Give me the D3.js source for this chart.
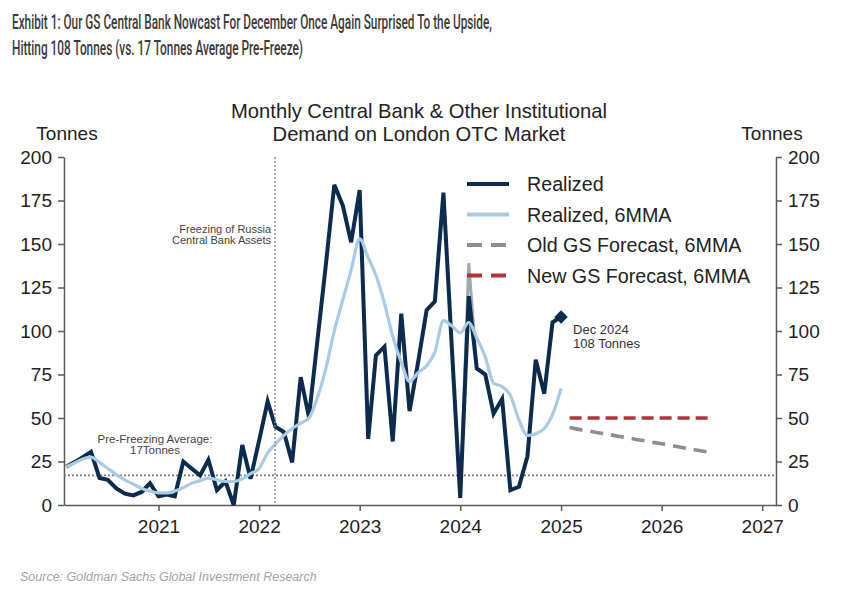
<!DOCTYPE html>
<html><head><meta charset="utf-8">
<script src="https://cdn.jsdelivr.net/npm/d3@7"></script>
<style>
body{margin:0;background:#fff;}
svg{display:block;}
</style></head>
<body><svg id="c" width="848" height="603"></svg>
<script>
// ---------------- DATA ----------------
const titleLines = [
  "Exhibit 1: Our GS Central Bank Nowcast For December Once Again Surprised To the Upside,",
  "Hitting 108 Tonnes (vs. 17 Tonnes Average Pre-Freeze)"
];
const subtitleLines = ["Monthly Central Bank & Other Institutional", "Demand on London OTC Market"];
const yAxisLabel = "Tonnes";
const sourceText = "Source: Goldman Sachs Global Investment Research";

// Monthly values Jan 2020 .. Dec 2024 (tonnes)
const realized = [
  22, 24.5, 27.5, 30.5, 15.5, 14.5, 9.5, 6.5, 5.5, 7.5, 12.5, 5,
  6, 5, 25, 21, 17, 26, 8.5, 13.5, 0, 34.5, 15, 37,
  59.5, 45, 42, 24.5, 73.5, 50.5, 95, 139, 184, 172, 151, 181,
  38, 86, 91, 36.5, 110, 54, 82, 112, 117, 179.5, 92, 4,
  120, 78.5, 75, 52.5, 61, 8.5, 10.5, 28, 83.5, 64, 105, 108
];
const realized6mma = [
  22, 24, 26.5, 27.5, 24.5, 21, 17.5, 14.5, 12, 9.5, 8, 7,
  7, 8, 10, 12.5, 14, 15.5, 14.5, 13.5, 13.5, 15, 18, 21,
  30, 35, 40, 44, 47, 50, 62, 79, 100, 118, 135, 153,
  142, 132, 116, 97, 82, 71, 76, 80, 88, 106, 103, 99,
  105, 96, 85, 70, 68, 63, 49, 40, 41, 44, 52, 67
];
// earlier print of Jan 2024 (grey tip above the realized spike)
const jan2024Revision = [4, 139, 78.5];
// Forecasts Jan 2025 .. Jun 2026
const oldForecast6mma = [44.5, 43.6, 42.8, 42.0, 41.1, 40.3, 39.4, 38.6, 37.7, 36.9, 36.0, 35.2, 34.3, 33.5, 32.6, 31.8, 30.9, 30.0];
const newForecast6mma = [50, 50, 50, 50, 50, 50, 50, 50, 50, 50, 50, 50, 50, 50, 50, 50, 50, 50];

const yTicks = [0, 25, 50, 75, 100, 125, 150, 175, 200];
const xTickYears = [2021, 2022, 2023, 2024, 2025, 2026, 2027];
const preFreezeAverage = 17;
const freezeDate = new Date(2022, 1, 28);
const legendLabels = ["Realized", "Realized, 6MMA", "Old GS Forecast, 6MMA", "New GS Forecast, 6MMA"];
const freezeNote = ["Freezing of Russia", "Central Bank Assets"];
const avgNote = ["Pre-Freezing Average:", "17Tonnes"];
const lastNote = ["Dec 2024", "108 Tonnes"];

// month-end stamps (plotted at start of following month)
const realizedDates = d3.timeMonth.range(new Date(2020, 1, 1), new Date(2025, 1, 1));
const forecastDates = d3.timeMonth.range(new Date(2025, 1, 1), new Date(2026, 6, 2));
const revisionDates = [new Date(2024, 0, 1), new Date(2024, 1, 1), new Date(2024, 2, 1)];

// ---------------- CHART ----------------
const FONT = "'Liberation Sans', Arial, Helvetica, sans-serif";
const C = { navy: "#0c2b4f", light: "#aacbe6", grey: "#8e8e8e", red: "#b5323b", axis: "#5a5a5a", text: "#222" };
const L = 64, R = 776, T = 157, B = 505;

const svg = d3.select("#c");
const x = d3.scaleTime().domain([new Date(2020, 0, 24), new Date(2027, 1, 20)]).range([L, R]);
const y = d3.scaleLinear().domain([0, 200]).range([B, T]);

// Title
svg.selectAll("text.title").data(titleLines).join("text")
  .attr("class", "title")
  .attr("x", 12).attr("y", (d, i) => 29 + i * 26)
  .attr("textLength", (d, i) => i === 0 ? 480 : 291)
  .attr("lengthAdjust", "spacingAndGlyphs")
  .attr("font-family", "Roboto, 'Noto Sans', sans-serif")
  .attr("font-weight", 500).attr("font-size", 19.5).attr("fill", "#3a3a3a")
  .text(d => d);

// Subtitle
svg.selectAll("text.sub").data(subtitleLines).join("text")
  .attr("class", "sub")
  .attr("x", 419).attr("y", (d, i) => 118 + i * 23)
  .attr("text-anchor", "middle")
  .attr("font-family", FONT).attr("font-size", 20.2).attr("fill", C.text)
  .text(d => d);

// Axis unit labels
svg.append("text").attr("x", 67).attr("y", 140).attr("text-anchor", "middle")
  .attr("font-family", FONT).attr("font-size", 19).attr("fill", C.text).text(yAxisLabel);
svg.append("text").attr("x", 772).attr("y", 140).attr("text-anchor", "middle")
  .attr("font-family", FONT).attr("font-size", 19).attr("fill", C.text).text(yAxisLabel);

// Axes
function styleAxis(g) {
  g.select(".domain").attr("stroke", C.axis).attr("stroke-width", 1.5);
  g.selectAll(".tick line").attr("stroke", C.axis).attr("stroke-width", 1.5);
  g.selectAll(".tick text").attr("font-family", FONT).attr("font-size", 19).attr("fill", C.text);
}
svg.append("g").attr("transform", `translate(${L},0)`)
  .call(d3.axisLeft(y).tickValues(yTicks).tickSize(6).tickPadding(6).tickSizeOuter(0))
  .call(styleAxis);
svg.append("g").attr("transform", `translate(${R},0)`)
  .call(d3.axisRight(y).tickValues(yTicks).tickSize(6).tickPadding(6).tickSizeOuter(0))
  .call(styleAxis);
svg.append("g").attr("transform", `translate(0,${B})`)
  .call(d3.axisBottom(x).tickValues(xTickYears.map(v => new Date(v, 0, 1)))
    .tickFormat(d3.timeFormat("%Y")).tickSize(6).tickPadding(9).tickSizeOuter(0))
  .call(styleAxis);

// Clip
svg.append("clipPath").attr("id", "plot").append("rect")
  .attr("x", L).attr("y", T - 10).attr("width", R - L).attr("height", B - T + 11);
const plot = svg.append("g").attr("clip-path", "url(#plot)");

// Reference lines
plot.append("line")
  .attr("x1", L).attr("x2", R).attr("y1", y(preFreezeAverage)).attr("y2", y(preFreezeAverage))
  .attr("stroke", "#7a7a7a").attr("stroke-width", 1.6).attr("stroke-dasharray", "2,2");
svg.append("line")
  .attr("x1", x(freezeDate)).attr("x2", x(freezeDate)).attr("y1", y(200)).attr("y2", y(0))
  .attr("stroke", "#8a8a8a").attr("stroke-width", 1.4).attr("stroke-dasharray", "2,2");

const line = d3.line().x(d => x(d[0])).y(d => y(d[1]));

plot.append("path").datum(d3.zip(revisionDates, jan2024Revision))
  .attr("d", line).attr("fill", "none").attr("stroke", "#9ea9b2").attr("stroke-width", 3)
  .attr("stroke-linejoin", "miter");
plot.append("path").datum(d3.zip(realizedDates, realized))
  .attr("d", line).attr("fill", "none").attr("stroke", C.navy).attr("stroke-width", 4)
  .attr("stroke-linejoin", "miter");
plot.append("path").datum(d3.zip(realizedDates, realized6mma))
  .attr("d", d3.line().x(d => x(d[0])).y(d => y(d[1])).curve(d3.curveMonotoneX))
  .attr("fill", "none").attr("stroke", C.light).attr("stroke-width", 3.2);
plot.append("path").datum(d3.zip(forecastDates, oldForecast6mma))
  .attr("d", line).attr("fill", "none").attr("stroke", C.grey).attr("stroke-width", 3.6)
  .attr("stroke-dasharray", "13,8");
plot.append("path").datum(d3.zip(forecastDates, newForecast6mma))
  .attr("d", line).attr("fill", "none").attr("stroke", C.red).attr("stroke-width", 3.6)
  .attr("stroke-dasharray", "12,6");

// Last point marker
const lastIdx = realized.length - 1;
svg.append("path")
  .attr("d", d3.symbol().type(d3.symbolSquare).size(90)())
  .attr("transform", `translate(${x(realizedDates[lastIdx])},${y(realized[lastIdx])}) rotate(45)`)
  .attr("fill", C.navy);

// Annotations
svg.selectAll("text.last").data(lastNote).join("text").attr("class", "last")
  .attr("x", x(realizedDates[lastIdx]) + 12).attr("y", (d, i) => 334 + i * 14)
  .attr("font-family", FONT).attr("font-size", 13).attr("fill", "#333").text(d => d);

svg.selectAll("text.freeze").data(freezeNote).join("text").attr("class", "freeze")
  .attr("x", x(freezeDate) - 4).attr("y", (d, i) => 233 + i * 11)
  .attr("text-anchor", "end")
  .attr("font-family", FONT).attr("font-size", 11).attr("fill", "#444").text(d => d);

svg.selectAll("text.avg").data(avgNote).join("text").attr("class", "avg")
  .attr("x", 155).attr("y", (d, i) => 443 + i * 10.5)
  .attr("text-anchor", "middle")
  .attr("font-family", FONT).attr("font-size", 11.5).attr("fill", "#444").text(d => d);

// Legend
const legendStyles = [
  { color: C.navy, dash: null },
  { color: C.light, dash: null },
  { color: C.grey, dash: "15,9" },
  { color: C.red, dash: "15,9" }
];
const lg = svg.append("g");
legendLabels.forEach((lab, i) => {
  const yy = 184 + i * 30.5;
  lg.append("line").attr("x1", 467).attr("x2", 509).attr("y1", yy).attr("y2", yy)
    .attr("stroke", legendStyles[i].color).attr("stroke-width", 4)
    .attr("stroke-dasharray", legendStyles[i].dash);
  lg.append("text").attr("x", 527).attr("y", yy + 7)
    .attr("font-family", FONT).attr("font-size", 19.7).attr("fill", C.text).text(lab);
});

// Source
svg.append("text").attr("x", 20).attr("y", 581)
  .attr("font-family", FONT).attr("font-style", "italic").attr("font-size", 12.5)
  .attr("fill", "#a3a3a3").text(sourceText);
</script>
</body></html>
